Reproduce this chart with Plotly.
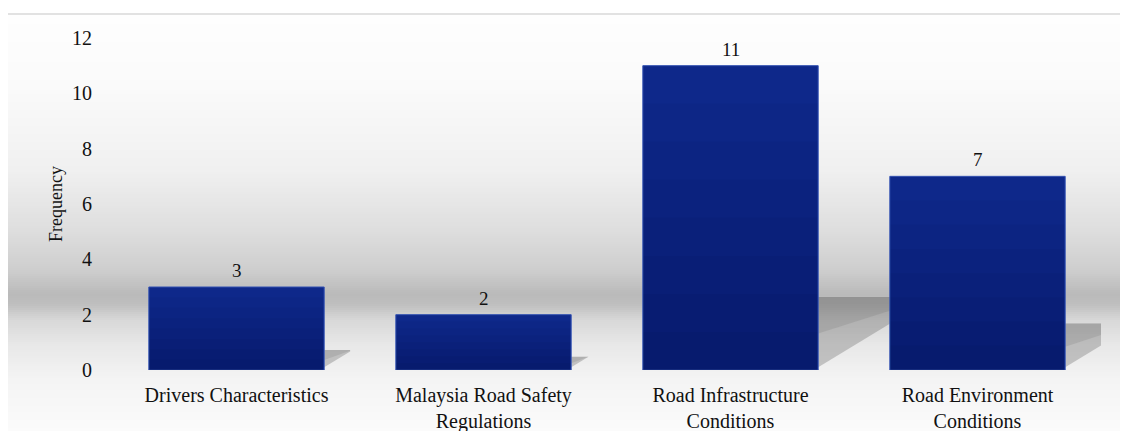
import plotly.graph_objects as go

# chart data
categories = ["Drivers Characteristics", "Malaysia Road Safety<br>Regulations",
              "Road Infrastructure<br>Conditions", "Road Environment<br>Conditions"]
frequency = [3, 2, 11, 7]
y_ticks = [0, 2, 4, 6, 8, 10, 12]

SERIF = "Times New Roman, Liberation Serif, Tinos, DejaVu Serif, serif"

# page has an 8px body margin, so the figure is 8px smaller than the window
OFF = 8
W, H = 1128 - OFF, 431 - OFF
L, R, T, B = 105, 27, 30, 61
plot_w = W - L - R
plot_h = H - T - B


def px_to_paper_x(px):
    # px given in window pixels
    return (px - OFF - L) / plot_w


def py_to_paper_y(py):
    return (H - B - (py - OFF)) / plot_h


# grey "floor" gradient behind the chart (window pixel row -> grey level)
grad_stops = [(14, 254), (90, 250), (170, 240), (230, 222), (270, 206),
              (294, 186), (304, 190), (320, 216), (345, 232), (380, 244), (431, 251)]


def grey_at(py):
    for (y0, c0), (y1, c1) in zip(grad_stops, grad_stops[1:]):
        if y0 <= py <= y1:
            t = (py - y0) / (y1 - y0)
            return int(round(c0 + (c1 - c0) * t))
    return grad_stops[-1][1]


shapes = []
step = 2
for py in range(14, 431 + step, step):
    g = grey_at(py + step / 2)
    shapes.append(dict(
        type="rect", xref="paper", yref="paper", layer="below",
        x0=px_to_paper_x(7), x1=px_to_paper_x(1140),
        y0=py_to_paper_y(py + step), y1=py_to_paper_y(py),
        fillcolor=f"rgb({g},{g},{g})", line=dict(width=0),
    ))

# frame
shapes.append(dict(
    type="rect", xref="paper", yref="paper", layer="above",
    x0=px_to_paper_x(7), x1=px_to_paper_x(1145),
    y0=py_to_paper_y(445), y1=py_to_paper_y(14),
    fillcolor="rgba(0,0,0,0)", line=dict(color="#d9d9d9", width=1.5),
))

# shadows cast to the right of each bar (darker towards the top edge)
bar_width = 0.71
for i, v in enumerate(frequency):
    r = i + bar_width / 2
    h = 0.24 * v
    dx = 0.035 * v
    low = 0.1 + 0.19 * v
    path = f"M {r},0.1 L {r},{h} L {r + dx},{h} L {r + dx},{low} Z"
    shapes.append(dict(
        type="path", path=path, xref="x", yref="y", layer="below",
        fillcolor="rgba(90,90,90,0.30)", line=dict(width=0),
    ))
    mid = 0.5
    path2 = (f"M {r},{h * mid} L {r},{h} L {r + dx},{h} "
             f"L {r + dx},{low + (h - low) * mid} Z")
    shapes.append(dict(
        type="path", path=path2, xref="x", yref="y", layer="below",
        fillcolor="rgba(90,90,90,0.15)", line=dict(width=0),
    ))
    # subtle vertical shading on the bar itself (darker at the bottom)
    n = 8
    for k in range(1, n + 1):
        shapes.append(dict(
            type="rect", xref="x", yref="y", layer="above",
            x0=i - bar_width / 2 + 0.003, x1=r - 0.003, y0=0, y1=v * k / n,
            fillcolor="rgba(0,0,20,0.035)", line=dict(width=0),
        ))

fig = go.Figure()
fig.add_trace(go.Bar(
    x=list(range(len(categories))),
    y=frequency,
    width=bar_width,
    marker=dict(color="#0f2a8e", line=dict(color="#3553b4", width=1)),
    hoverinfo="x+y",
))

# value labels above the bars
for i, v in enumerate(frequency):
    fig.add_annotation(
        x=i, y=v, text=str(v), showarrow=False,
        yanchor="bottom", yshift=4,
        font=dict(family=SERIF, size=19, color="#111111"),
    )

fig.update_layout(
    width=W, height=H,
    margin=dict(l=L, r=R, t=T, b=B),
    paper_bgcolor="white",
    plot_bgcolor="rgba(0,0,0,0)",
    font=dict(family=SERIF, color="#111111"),
    showlegend=False,
    shapes=shapes,
    xaxis=dict(
        tickmode="array",
        tickvals=list(range(len(categories))),
        ticktext=categories,
        range=[-0.5, len(categories) - 0.5],
        showgrid=False, zeroline=False, showline=False,
        tickfont=dict(family=SERIF, size=20),
        ticklabelstandoff=11,
        automargin=False,
    ),
    yaxis=dict(
        range=[0, 12],
        tickvals=y_ticks,
        showgrid=False, zeroline=False, showline=False,
        tickfont=dict(family=SERIF, size=20),
        ticklabelstandoff=20,
        automargin=False,
        title=dict(text="Frequency", font=dict(family=SERIF, size=18), standoff=4),
    ),
)

fig.write_html("out.html")
